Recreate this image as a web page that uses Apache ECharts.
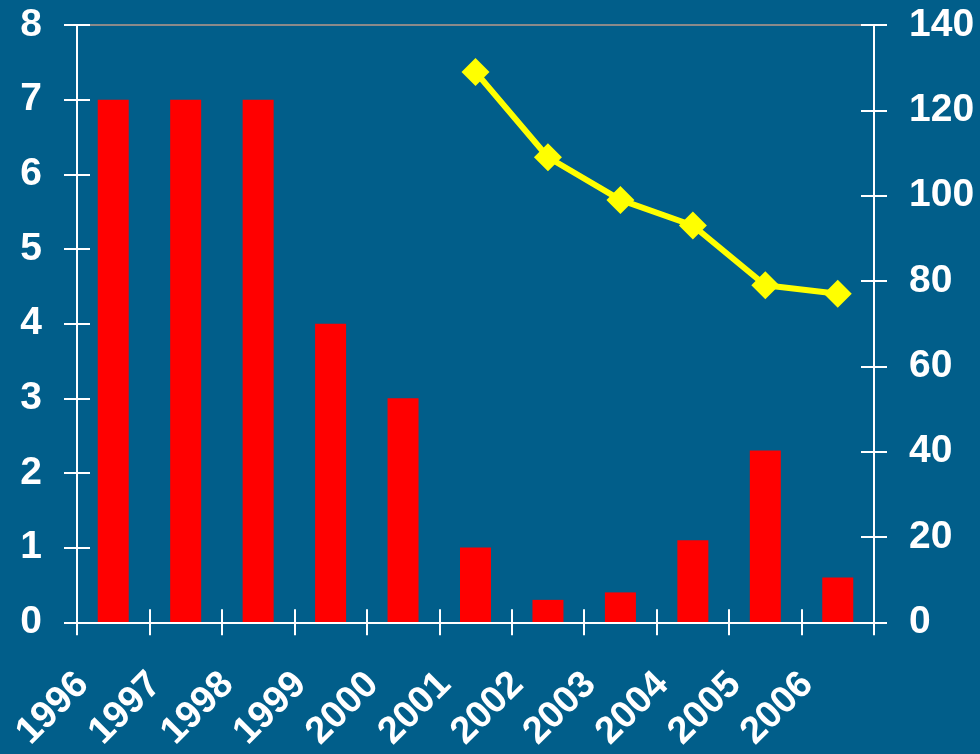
<!DOCTYPE html>
<html>
<head>
<meta charset="utf-8">
<script src="https://cdn.jsdelivr.net/npm/echarts@6/dist/echarts.min.js"></script>
<style>
  html, body { margin: 0; padding: 0; background: #015e8a; }
  #chart { width: 980px; height: 754px; }
</style>
</head>
<body>
<div id="chart"></div>
<script>
// Years on the category axis
var years = ['1996', '1997', '1998', '1999', '2000', '2001', '2002', '2003', '2004', '2005', '2006'];
// Bar series (left axis, 0–8)
var barValues = [7, 7, 7, 4, 3, 1, 0.3, 0.4, 1.1, 2.3, 0.6];
// Line series (right axis, 0–140), starts in 2001
var lineValues = [null, null, null, null, null, 129, 109, 99, 93, 79, 77];
// Axis ranges
var leftAxis = { min: 0, max: 8, interval: 1 };
var rightAxis = { min: 0, max: 140, interval: 20 };

var WHITE = '#ffffff';
var labelFont = { color: WHITE, fontFamily: 'Liberation Sans, Arial, sans-serif', fontWeight: 'bold', fontSize: 39 };

function tickAxis(base, extra) {
  return Object.assign({}, base, extra);
}

var chart = echarts.init(document.getElementById('chart'));
chart.setOption({
  backgroundColor: '#015e8a',
  animation: false,
  grid: { left: 77, right: 106, top: 25, bottom: 129, containLabel: false },
  xAxis: [
    {
      type: 'category', data: years, position: 'bottom',
      axisLine: { lineStyle: { color: WHITE, width: 2 } },
      axisTick: { show: true, inside: false, length: 13, lineStyle: { color: WHITE, width: 2 } },
      axisLabel: Object.assign({ rotate: 45, margin: 26, padding: [0, 43, 0, 0], interval: 0 }, labelFont, { fontSize: 38 }),
      splitLine: { show: false }, z: 3
    },
    {
      // inner half of the crossing ticks on the bottom axis
      type: 'category', data: years, position: 'bottom',
      axisLine: { show: false },
      axisTick: { show: true, inside: true, length: 13, lineStyle: { color: WHITE, width: 2 } },
      axisLabel: { show: false }, splitLine: { show: false }, z: 3
    },
    {
      // thin grey frame line across the top of the plot
      type: 'category', data: years, position: 'top',
      axisLine: { onZero: false, lineStyle: { color: '#8a8a8a', width: 2 } },
      axisTick: { show: false }, axisLabel: { show: false }, splitLine: { show: false }, z: 1
    }
  ],
  yAxis: [
    tickAxis(leftAxis, {
      type: 'value', position: 'left',
      axisLine: { show: true, lineStyle: { color: WHITE, width: 2 } },
      axisTick: { show: true, inside: false, length: 13, lineStyle: { color: WHITE, width: 2 } },
      axisLabel: Object.assign({ margin: 35 }, labelFont),
      splitLine: { show: false }, z: 3
    }),
    tickAxis(rightAxis, {
      type: 'value', position: 'right',
      axisLine: { show: true, lineStyle: { color: WHITE, width: 2 } },
      axisTick: { show: true, inside: false, length: 13, lineStyle: { color: WHITE, width: 2 } },
      axisLabel: Object.assign({ margin: 35 }, labelFont),
      splitLine: { show: false }, z: 3
    }),
    tickAxis(leftAxis, {
      type: 'value', position: 'left',
      axisLine: { show: false },
      axisTick: { show: true, inside: true, length: 13, lineStyle: { color: WHITE, width: 2 } },
      axisLabel: { show: false }, splitLine: { show: false }, z: 3
    }),
    tickAxis(rightAxis, {
      type: 'value', position: 'right',
      axisLine: { show: false },
      axisTick: { show: true, inside: true, length: 13, lineStyle: { color: WHITE, width: 2 } },
      axisLabel: { show: false }, splitLine: { show: false }, z: 3
    })
  ],
  series: [
    {
      type: 'bar', xAxisIndex: 0, yAxisIndex: 0,
      data: barValues, barWidth: 31,
      itemStyle: { color: '#ff0000' }
    },
    {
      type: 'line', xAxisIndex: 0, yAxisIndex: 1,
      data: lineValues, connectNulls: false,
      symbol: 'diamond', symbolSize: 28,
      lineStyle: { color: '#ffff00', width: 6 },
      itemStyle: { color: '#ffff00' },
      z: 5
    }
  ]
});
</script>
</body>
</html>
